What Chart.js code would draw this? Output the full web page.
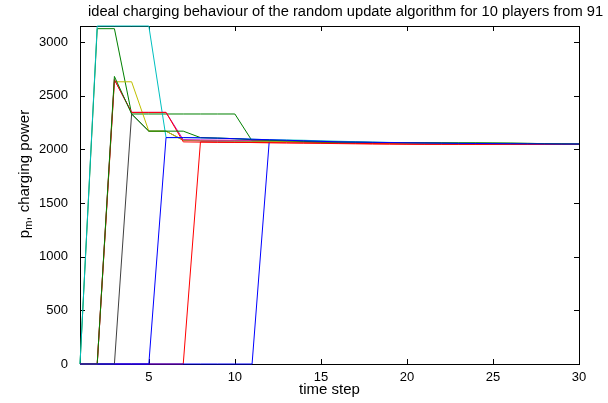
<!DOCTYPE html>
<html>
<head>
<meta charset="utf-8">
<script src="https://cdn.jsdelivr.net/npm/chart.js@4"></script>
<style>
  html, body { margin: 0; padding: 0; background: #fff; }
  #c { display: block; }
</style>
</head>
<body>
<canvas id="c" width="608" height="403"></canvas>
<script>
// ---- data ----
const timeSteps = [1,2,3,4,5,6,7,8,9,10,11,12,13,14,15,16,17,18,19,20,21,22,23,24,25,26,27,28,29,30];
const xTickValues = [5,10,15,20,25,30];
const yTickValues = [0,500,1000,1500,2000,2500,3000];
const yMax = 3150;

const player1  = [0,0,0,0,0,2110,2110,2108,2105,2100,2095,2090,2085,2080,2075,2070,2068,2066,2064,2062,2060,2058,2056,2055,2054,2053,2052,2051,2050,2050];
const player2  = [0,0,2680,2330,2170,2170,2170,2110,2105,2100,2090,2085,2080,2075,2070,2068,2066,2065,2064,2063,2062,2061,2060,2060,2059,2058,2056,2054,2052,2050];
const player3  = [0,0,2650,2345,2345,2345,2070,2068,2066,2065,2064,2063,2062,2061,2060,2058,2056,2054,2052,2050,2049,2048,2048,2047,2047,2047,2047,2047,2047,2047];
const player4  = [0,3150,3150,3150,3150,2110,2110,2108,2105,2100,2095,2090,2088,2085,2080,2076,2072,2068,2065,2062,2060,2058,2056,2055,2054,2053,2052,2051,2050,2050];
const player5  = [0,0,2650,2345,2345,2345,2090,2088,2086,2086,2085,2084,2082,2080,2076,2072,2068,2065,2063,2061,2059,2057,2055,2054,2053,2052,2051,2050,2050,2050];
const player6  = [0,0,2630,2630,2170,2170,2085,2083,2082,2080,2078,2076,2075,2073,2070,2067,2064,2061,2058,2056,2055,2054,2053,2052,2051,2050,2050,2050,2050,2050];
const player7  = [0,0,0,2330,2170,2170,2085,2080,2078,2077,2076,2075,2074,2072,2068,2064,2061,2058,2056,2055,2054,2053,2052,2051,2051,2050,2050,2050,2050,2050];
const player8  = [0,0,0,0,0,0,0,0,0,0,0,2080,2078,2076,2072,2068,2065,2062,2060,2058,2056,2055,2054,2053,2052,2051,2050,2050,2050,2050];
const player9  = [0,3125,3125,2330,2330,2330,2330,2330,2330,2330,2080,2078,2075,2070,2068,2066,2065,2064,2063,2062,2061,2060,2060,2060,2059,2058,2056,2054,2052,2050];
const player10 = [0,0,0,0,0,0,0,2070,2068,2066,2064,2062,2060,2058,2056,2054,2052,2050,2049,2048,2047,2047,2046,2046,2046,2046,2046,2046,2047,2047];

const seriesList = [player1,player2,player3,player4,player5,player6,player7,player8,player9,player10];
const seriesColors = ['#0000ff','#008000','#ff0000','#00bfbf','#bf00bf','#bfbf00','#404040','#0000ff','#008000','#ff0000'];

const titleText = 'ideal charging behaviour of the random update algorithm for 10 players from 91';
const xLabel = 'time step';
const yLabelMain = 'p';
const yLabelSub = 'm';
const yLabelRest = ', charging power';

const FONT = '"Liberation Sans", Arial, Helvetica, sans-serif';

const datasets = seriesList.map((vals, i) => ({
  data: vals.map((v, k) => ({x: timeSteps[k], y: v})),
  borderColor: seriesColors[i],
  backgroundColor: seriesColors[i],
  borderWidth: 1,
  pointRadius: 0,
  fill: false,
  tension: 0,
  clip: 2
}));

const framePlugin = {
  id: 'frame',
  beforeDraw(chart) {
    const ctx = chart.ctx;
    ctx.save();
    ctx.fillStyle = '#fff';
    ctx.fillRect(0, 0, chart.width, chart.height);
    ctx.restore();
  },
  beforeDatasetsDraw(chart) {
    const {ctx, chartArea: a, scales} = chart;
    ctx.save();
    ctx.strokeStyle = '#000';
    ctx.lineWidth = 1;
    ctx.strokeRect(a.left + 0.5, a.top + 0.5, a.right - a.left, a.bottom - a.top);
    const tl = 5;
    ctx.beginPath();
    xTickValues.forEach(v => {
      const px = Math.round(scales.x.getPixelForValue(v)) + 0.5;
      ctx.moveTo(px, a.bottom); ctx.lineTo(px, a.bottom - tl);
      ctx.moveTo(px, a.top); ctx.lineTo(px, a.top + tl);
    });
    yTickValues.forEach(v => {
      const py = Math.round(scales.y.getPixelForValue(v)) + 0.5;
      ctx.moveTo(a.left, py); ctx.lineTo(a.left + tl, py);
      ctx.moveTo(a.right, py); ctx.lineTo(a.right - tl, py);
    });
    ctx.stroke();
    ctx.restore();
  },
  afterDraw(chart) {
    const {ctx, chartArea: a} = chart;
    ctx.save();
    ctx.fillStyle = '#000';
    // title
    ctx.font = '14.7px ' + FONT;
    ctx.textBaseline = 'middle';
    ctx.textAlign = 'left';
    ctx.fillText(titleText, 88, 12);
    // x label
    ctx.font = '15px ' + FONT;
    ctx.textAlign = 'center';
    ctx.fillText(xLabel, (a.left + a.right) / 2, 390);
    // y label with subscript
    ctx.translate(24, 174);
    ctx.rotate(-Math.PI / 2);
    ctx.textAlign = 'left';
    ctx.textBaseline = 'alphabetic';
    const fMain = '15px ' + FONT, fSub = '11px ' + FONT;
    ctx.font = fMain; const w1 = ctx.measureText(yLabelMain).width;
    ctx.font = fSub;  const w2 = ctx.measureText(yLabelSub).width;
    ctx.font = fMain; const w3 = ctx.measureText(yLabelRest).width;
    let x0 = -(w1 + w2 + w3) / 2;
    const base = 5;
    ctx.font = fMain; ctx.fillText(yLabelMain, x0, base); x0 += w1;
    ctx.font = fSub;  ctx.fillText(yLabelSub, x0, base + 3); x0 += w2;
    ctx.font = fMain; ctx.fillText(yLabelRest, x0, base);
    ctx.restore();
  }
};

new Chart(document.getElementById('c'), {
  type: 'line',
  data: { datasets },
  options: {
    responsive: false,
    animation: false,
    devicePixelRatio: 1,
    layout: { padding: { left: 0, top: 26, right: 29, bottom: 0 } },
    plugins: { legend: { display: false }, tooltip: { enabled: false }, title: { display: false } },
    scales: {
      x: {
        type: 'linear',
        min: 1, max: 30,
        offset: false,
        grid: { display: false, drawTicks: false },
        border: { display: false },
        ticks: { color: '#000', font: { size: 13, family: FONT }, padding: 6, maxRotation: 0, autoSkip: false,
                 callback: v => String(v) },
        afterBuildTicks: s => { s.ticks = xTickValues.map(v => ({value: v})); },
        afterFit: s => { s.height = 39; }
      },
      y: {
        type: 'linear',
        min: 0, max: yMax,
        grid: { display: false, drawTicks: false },
        border: { display: false },
        ticks: { color: '#000', font: { size: 13, family: FONT }, padding: 12, autoSkip: false,
                 callback: v => String(v) },
        afterBuildTicks: s => { s.ticks = yTickValues.map(v => ({value: v})); },
        afterFit: s => { s.width = 80; }
      }
    }
  },
  plugins: [framePlugin]
});
</script>
</body>
</html>
